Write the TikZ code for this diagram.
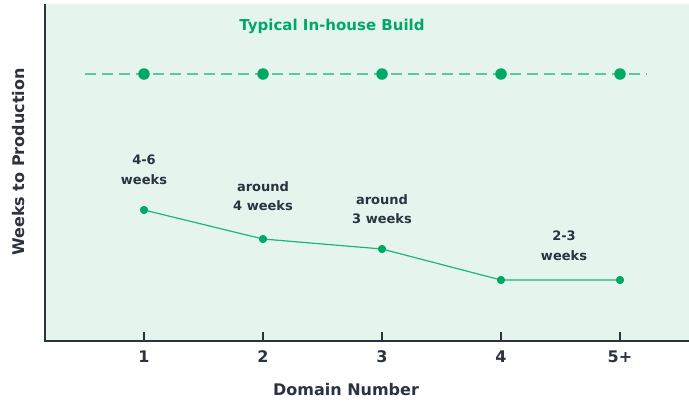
\documentclass[tikz,border=0pt]{standalone}
\usepackage{fontspec}
\setmainfont{DejaVu Sans}
\definecolor{panel}{HTML}{E5F5EE}
\definecolor{ink}{HTML}{2B3240}
\definecolor{dotgreen}{HTML}{00A865}
\definecolor{dashgreen}{HTML}{5CC89B}
\definecolor{linegreen}{HTML}{1DB57A}
\begin{document}
\begin{tikzpicture}[x=1pt,y=-1pt,
  axisline/.style={draw=ink,line width=2pt},
  tickline/.style={draw=ink,line width=1.6pt},
  ticklabel/.style={text=ink,font=\fontsize{16}{18}\selectfont\bfseries},
  axistitle/.style={text=ink,font=\fontsize{16}{18}\selectfont\bfseries},
  bigdot/.style={circle,fill=dotgreen,inner sep=0pt,minimum size=11.5pt},
  smalldot/.style={circle,fill=dotgreen,inner sep=0pt,minimum size=8pt},
  note/.style={text=ink,align=center,font=\fontsize{13}{19.5}\selectfont\bfseries},
  baseline/.style={draw=dashgreen,line width=1.3pt,dash pattern=on 11pt off 6pt},
  trend/.style={draw=linegreen,line width=1.2pt}]
\useasboundingbox (0,0) rectangle (689,400);
% plot area
\fill[panel] (45,4) rectangle (689,341);
\draw[axisline] (45,4) -- (45,341) -- (689,341);
% ticks and tick labels
\foreach \x/\l in {144/1,263/2,382/3,501/4,620/5+}{
  \draw[tickline] (\x,332) -- (\x,341);
  \node[ticklabel] (tick\l) at (\x,357) {\l};
}
% axis titles
\node[axistitle] (xtitle) at (346,390) {Domain Number};
\node[axistitle,rotate=90] (ytitle) at (19,162) {Weeks to Production};
% in-house baseline
\node[text=dotgreen,font=\fontsize{15}{17}\selectfont\bfseries] (title) at (332,26) {Typical In-house Build};
\coordinate (bl) at (85,74);
\coordinate (br) at (647,74);
\draw[baseline] (bl) -- (br);
\foreach \x [count=\i] in {144,263,382,501,620}
  \node[bigdot] (b\i) at (\x,74) {};
% trend line
\node[smalldot] (p1) at (144,210) {};
\node[smalldot] (p2) at (263,239) {};
\node[smalldot] (p3) at (382,249) {};
\node[smalldot] (p4) at (501,280) {};
\node[smalldot] (p5) at (620,280) {};
\draw[trend] (p1.center) -- (p2.center) -- (p3.center) -- (p4.center) -- (p5.center);
\foreach \i in {1,...,5} \node[smalldot] at (p\i) {};
% annotations
\node[note] (n1) at (144,170) {4-6\\weeks};
\node[note] (n2) at (263,196) {around\\4 weeks};
\node[note] (n3) at (382,209) {around\\3 weeks};
\node[note] (n4) at (564,246) {2-3\\weeks};
\end{tikzpicture}
\end{document}
